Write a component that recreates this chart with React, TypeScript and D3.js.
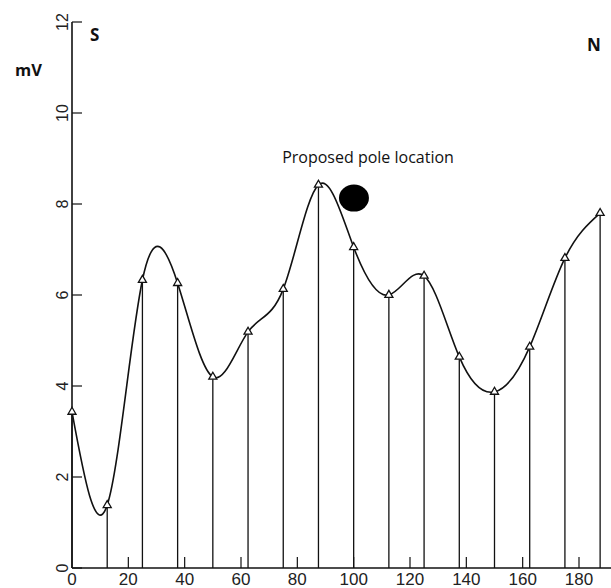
import React from 'react'
import * as d3 from 'd3'

// distance along profile (m) and measured potential (mV)
const distances = [0, 12.5, 25, 37.5, 50, 62.5, 75, 87.5, 100, 112.5, 125, 137.5, 150, 162.5, 175, 187.5]
const voltages = [3.43, 1.38, 6.33, 6.26, 4.2, 5.19, 6.13, 8.42, 7.05, 6.0, 6.42, 4.64, 3.87, 4.86, 6.81, 7.8]

const xTicks = [20, 40, 60, 80, 100, 120, 140, 160, 180]
const xTickLabels = [0, 20, 40, 60, 80, 100, 120, 140, 160, 180]
const yTicks = [0, 2, 4, 6, 8, 10, 12]

const pole = { x: 100.1, y: 8.13, label: 'Proposed pole location' }

const width = 611
const height = 588
const margin = { top: 22, right: 0, bottom: 20, left: 72 }

export default function App() {
  const x = d3.scaleLinear().domain([0, 180]).range([margin.left, 579])
  const y = d3.scaleLinear().domain([0, 12]).range([height - margin.bottom, margin.top])

  const points = distances.map((d, i) => ({ d, v: voltages[i] }))

  const curve = d3.line<{ d: number; v: number }>()
    .x(p => x(p.d))
    .y(p => y(p.v))
    .curve(d3.curveNatural)

  const tri = d3.symbol().type(d3.symbolTriangle).size(28)()

  const y0 = y(0)

  return (
    <div style={{ position: 'absolute', left: 0, top: 0 }}>
      <svg width={width} height={height} style={{ display: 'block', background: '#fff' }}>
        {/* axes */}
        <line x1={x(0)} x2={width} y1={y0} y2={y0} stroke="#111" strokeWidth={1.6} />
        <line x1={x(0)} x2={x(0)} y1={y0} y2={y(12)} stroke="#111" strokeWidth={1.6} />

        {yTicks.map(t => (
          <g key={'yt' + t}>
            <line x1={x(0)} x2={x(0) + 10} y1={y(t)} y2={y(t)} stroke="#111" strokeWidth={1.2} />
            <text
              transform={`translate(${x(0) - 4},${y(t)}) rotate(-90)`}
              textAnchor="middle"
              fontFamily="'Liberation Sans', Arial, sans-serif"
              fontSize={16}
              fill="#222"
            >
              {t}
            </text>
          </g>
        ))}

        {xTicks.map(t => (
          <line key={'xt' + t} x1={x(t)} x2={x(t)} y1={y0} y2={y0 - 11} stroke="#111" strokeWidth={1.2} />
        ))}
        {xTickLabels.map(t => (
          <text
            key={'xl' + t}
            x={x(t)}
            y={y0 + 17}
            textAnchor="middle"
            fontFamily="'Liberation Sans', Arial, sans-serif"
            fontSize={17}
            fill="#222"
          >
            {t}
          </text>
        ))}

        {/* drop lines */}
        {points.map(p => (
          <line key={'v' + p.d} x1={x(p.d)} x2={x(p.d)} y1={y(p.v)} y2={y0} stroke="#111" strokeWidth={1.3} />
        ))}

        <path d={curve(points) || ''} fill="none" stroke="#111" strokeWidth={1.6} />

        {points.map(p => (
          <path
            key={'m' + p.d}
            d={tri || ''}
            transform={`translate(${x(p.d)},${y(p.v)})`}
            fill="#fff"
            stroke="#111"
            strokeWidth={1.3}
          />
        ))}

        {/* pole marker */}
        <ellipse cx={x(pole.x)} cy={y(pole.y)} rx={15} ry={13.5} fill="#000" />
        <text
          x={368}
          y={163}
          textAnchor="middle"
          fontFamily="'Open Sans', sans-serif"
          fontSize={16}
          fill="#111"
        >
          {pole.label}
        </text>

        <text x={15} y={76} fontFamily="'Open Sans', sans-serif" fontWeight="bold" fontSize={16.5} fill="#111">mV</text>
        <text x={90} y={41} fontFamily="'Open Sans', sans-serif" fontWeight="bold" fontSize={17} fill="#111">S</text>
        <text x={587} y={51} fontFamily="'Open Sans', sans-serif" fontWeight="bold" fontSize={17} fill="#111">N</text>
      </svg>
    </div>
  )
}
